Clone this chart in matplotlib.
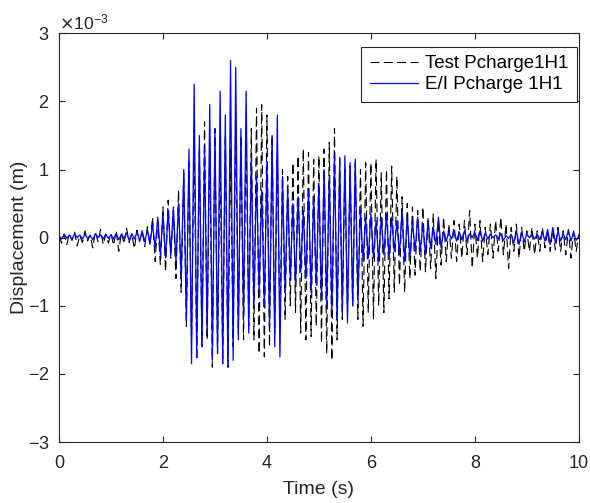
import numpy as np
import matplotlib.pyplot as plt
from matplotlib.ticker import ScalarFormatter

plt.rcParams['font.family'] = ['Liberation Sans', 'DejaVu Sans']
plt.rcParams['axes.unicode_minus'] = False

# Peak values, in units of 1e-3 m, every 0.05 s from 0 to 10 s
test_vals = [
    0.02, -0.08, 0.05, -0.1, 0.06, -0.04, 0.08, -0.12, 0.03, -0.07, 0.1, -0.05, 0.04, -0.15, 0.09, -0.06, 0.12, -0.1, 0.05, -0.08,
    0.06, -0.11, 0.1, -0.2, 0.08, -0.09, 0.14, -0.07, 0.05, -0.16, 0.11, -0.06, 0.09, -0.13, 0.16, -0.1, 0.3, -0.35, 0.25, -0.4,
    0.45, -0.5, 0.55, -0.3, 0.4, -0.6, 0.7, -0.8, 0.95, -1.3, 1.1, -1.5, 1.5, -1.8, 1.3, -1.6, 1.7, -1.5, 1.4, -1.9,
    1.6, -1.7, 1.2, -1.85, 1.5, -1.9, 1.3, -1.6, 1.7, -1.4, 1.5, -1.5, 1.55, -1.3, 1.6, -1.5, 1.9, -1.7, 1.95, -1.75,
    1.8, -1.6, 1.5, -1.4, 1.2, -1.3, 1.0, -1.2, 0.9, -1.0, 1.1, -1.1, 1.2, -1.4, 1.3, -1.5, 1.25, -1.45, 1.15, -1.3,
    1.2, -1.55, 1.3, -1.7, 1.4, -1.8, 1.6, -1.5, 1.2, -1.2, 1.0, -1.1, 1.05, -1.0, 1.1, -1.2, 1.0, -1.3, 1.1, -1.1,
    1.1, -1.2, 1.15, -1.0, 0.95, -1.1, 1.0, -0.9, 1.05, -0.8, 0.9, -0.7, 0.6, -0.8, 0.5, -0.6, 0.45, -0.55, 0.4, -0.5,
    0.45, -0.5, 0.3, -0.45, 0.35, -0.6, 0.25, -0.4, 0.3, -0.35, 0.2, -0.3, 0.25, -0.35, 0.2, -0.3, 0.25, -0.25, 0.4, -0.45,
    0.2, -0.3, 0.25, -0.35, 0.15, -0.25, 0.2, -0.3, 0.25, -0.2, 0.3, -0.25, 0.2, -0.45, 0.15, -0.2, 0.2, -0.3, 0.15, -0.2,
    0.1, -0.2, 0.15, -0.25, 0.1, -0.2, 0.15, -0.15, 0.1, -0.2, 0.12, -0.18, 0.15, -0.2, 0.1, -0.25, 0.12, -0.3, 0.1, -0.2,
    0.05,
]

ei_vals = [
    0.03, -0.02, 0.05, -0.01, 0.04, -0.03, 0.06, 0.0, 0.04, -0.02, 0.05, -0.01, 0.03, -0.03, 0.06, 0.0, 0.04, -0.02, 0.05, -0.01,
    0.04, -0.02, 0.06, -0.03, 0.05, -0.01, 0.07, -0.04, 0.06, -0.02, 0.08, -0.05, 0.1, -0.06, 0.12, -0.1, 0.2, -0.15, 0.3, -0.25,
    0.35, -0.3, 0.4, -0.25, 0.45, -0.35, 0.5, -0.6, 1.0, -1.2, 1.3, -1.85, 2.25, -1.75, 1.5, -1.6, 1.3, -1.4, 1.95, -1.8,
    1.6, -1.7, 2.15, -1.85, 1.8, -1.9, 2.6, -1.8, 2.5, -1.5, 1.6, -1.2, 2.15, -1.4, 1.2, -1.0, 0.9, -0.8, 0.7, -1.0,
    1.1, -1.3, 1.5, -1.6, 1.8, -1.75, 0.9, -0.8, 0.7, -0.6, 0.5, -0.7, 0.6, -0.5, 0.4, -0.6, 0.7, -0.8, 0.6, -0.7,
    0.8, -0.9, 1.0, -1.0, 0.9, -1.1, 1.2, -1.2, 1.15, -1.1, 1.2, -1.25, 1.1, -1.0, 1.15, -0.9, 0.4, -0.35, 0.3, -0.3,
    0.35, -0.3, 0.25, -0.35, 0.3, -0.25, 0.35, -0.3, 0.3, -0.2, 0.25, -0.25, 0.4, -0.35, 0.3, -0.3, 0.25, -0.2, 0.3, -0.2,
    0.2, -0.25, 0.25, -0.15, 0.15, -0.1, 0.3, -0.15, 0.1, -0.05, 0.08, -0.02, 0.1, -0.05, 0.08, -0.03, 0.1, -0.05, 0.06, 0.0,
    0.08, -0.04, 0.1, -0.05, 0.07, -0.02, 0.05, 0.0, 0.04, -0.02, 0.06, -0.04, 0.03, -0.01, 0.05, -0.08, 0.1, -0.1, 0.08, -0.06,
    0.05, 0.0, 0.04, -0.02, 0.05, -0.03, 0.08, -0.05, 0.12, -0.1, 0.15, -0.08, 0.1, -0.05, 0.06, -0.03, 0.1, -0.05, 0.08, -0.04,
    0.02,
]

time = np.linspace(0, 10, len(test_vals))
test = np.array(test_vals) * 1e-3
ei = np.array(ei_vals) * 1e-3

fig = plt.figure(figsize=(5.9, 5.03), dpi=100)
ax = fig.add_axes([0.1, 0.121, 0.881, 0.813])

ax.plot(time, test, color='black', linestyle=(0, (8, 4)), linewidth=0.8, label='Test Pcharge1H1')
ax.plot(time, ei, color='blue', linewidth=0.9, label='E/I Pcharge 1H1')

ax.set_xlim(0, 10)
ax.set_ylim(-3e-3, 3e-3)
ax.set_xticks([0, 2, 4, 6, 8, 10])
ax.set_yticks(np.arange(-3, 4) * 1e-3)

fmt = ScalarFormatter(useMathText=True)
fmt.set_powerlimits((-2, 2))
ax.yaxis.set_major_formatter(fmt)
ax.yaxis.get_offset_text().set_fontsize(12.5)
ax.yaxis.get_offset_text().set_color('#262626')

ax.tick_params(direction='in', top=True, right=True, labelsize=13, colors='#262626', length=4)
ax.tick_params(axis='x', pad=9)
ax.tick_params(axis='y', pad=7)
for s in ax.spines.values():
    s.set_color('#262626')
    s.set_linewidth(0.8)

ax.set_xlabel('Time (s)', fontsize=14, color='#262626', labelpad=7)
ax.set_ylabel('Displacement (m)', fontsize=14, color='#262626', labelpad=0)

# legend box sits just inside the top right corner, like the MATLAB one
leg = ax.legend(loc='upper right', bbox_to_anchor=(0.996, 0.967), fontsize=13.5, handlelength=2.6,
                fancybox=False, edgecolor='#262626', framealpha=1, borderaxespad=0,
                handletextpad=0.35, labelspacing=0.2, borderpad=0.45)
leg.get_frame().set_linewidth(0.8)

fig.savefig('out.png', dpi=100)
